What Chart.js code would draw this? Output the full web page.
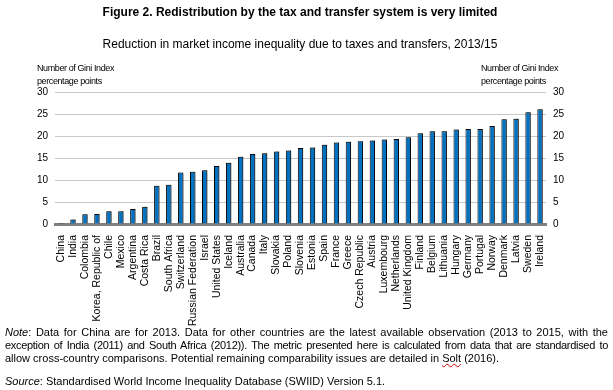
<!DOCTYPE html>
<html>
<head>
<meta charset="utf-8">
<script src="https://cdn.jsdelivr.net/npm/chart.js@4"></script>
<style>
  body { margin: 0; background: #fff; font-family: Arial, "Liberation Sans", sans-serif; color: #000; }
  #wrap { position: relative; width: 613px; height: 390px; overflow: hidden; }
  canvas { position: absolute; left: 0; top: 0; }
  .abs { position: absolute; white-space: nowrap; }
  .title { left: 0; width: 600px; text-align: center; top: 5px; font-size: 12px; font-weight: bold; }
  .sub { left: 0; width: 600px; text-align: center; top: 37px; font-size: 12px; }
  .axt { font-size: 9px; line-height: 13px; letter-spacing: -0.4px; top: 62px; }
  .note { left: 5px; width: 603px; top: 326px; font-size: 11px; line-height: 13px; }
  .note div { text-align: justify; text-align-last: justify; white-space: nowrap; }
  .note div.last { text-align-last: left; }
  .src { left: 5px; top: 375px; font-size: 11px; }
  .solt { text-decoration: underline wavy #d00000; text-decoration-thickness: 1px; }
</style>
</head>
<body>
<div id="wrap">
  <canvas id="myChart" width="613" height="390"></canvas>
  <div class="abs title">Figure 2. Redistribution by the tax and transfer system is very limited</div>
  <div class="abs sub">Reduction in market income inequality due to taxes and transfers, 2013/15</div>
  <div class="abs axt" style="left:37px">Number of Gini Index<br>percentage points</div>
  <div class="abs axt" style="left:481px">Number of Gini Index<br>percentage points</div>
  <div class="abs note">
    <div><i>Note</i>: Data for China are for 2013. Data for other countries are the latest available observation (2013 to 2015, with the</div>
    <div style="letter-spacing:-0.3px">exception of India (2011) and South Africa (2012)). The metric presented here is calculated from data that are standardised to</div>
    <div class="last">allow cross-country comparisons. Potential remaining comparability issues are detailed in <span class="solt">Solt</span> (2016).</div>
  </div>
  <div class="abs src"><i>Source</i>: Standardised World Income Inequality Database (SWIID) Version 5.1.</div>
</div>
<script>
// Dades del gràfic
const countries = ['China', 'India', 'Colombia', 'Korea, Republic of', 'Chile', 'Mexico', 'Argentina', 'Costa Rica',
  'Brazil', 'South Africa', 'Switzerland', 'Russian Federation', 'Israel', 'United States', 'Iceland', 'Australia',
  'Canada', 'Italy', 'Slovakia', 'Poland', 'Slovenia', 'Estonia', 'Spain', 'France', 'Greece', 'Czech Republic',
  'Austria', 'Luxembourg', 'Netherlands', 'United Kingdom', 'Finland', 'Belgium', 'Lithuania', 'Hungary',
  'Germany', 'Portugal', 'Norway', 'Denmark', 'Latvia', 'Sweden', 'Ireland'];
const giniReduction = [0.2, 1.0, 2.2, 2.3, 2.9, 2.9, 3.4, 3.9, 8.7, 8.9, 11.7, 11.9, 12.2, 13.2, 13.9, 15.3,
  15.9, 16.1, 16.5, 16.7, 17.3, 17.4, 18.0, 18.5, 18.7, 18.8, 19.0, 19.2, 19.3, 19.7, 20.6, 21.1, 21.1, 21.5,
  21.6, 21.6, 22.3, 23.8, 23.9, 25.4, 26.1];
const yTicks = [0, 5, 10, 15, 20, 25, 30];

const font = { family: 'Arial, "Liberation Sans", sans-serif' };

// Ombra suau sota les barres
const barShadow = {
  id: 'barShadow',
  beforeDatasetDraw(chart) {
    const ctx = chart.ctx;
    ctx.save();
    ctx.shadowColor = 'rgba(0,0,0,0.35)';
    ctx.shadowOffsetX = 1.5;
    ctx.shadowOffsetY = -1;
    ctx.shadowBlur = 1;
  },
  afterDatasetDraw(chart) {
    chart.ctx.restore();
  }
};

const ctx = document.getElementById('myChart').getContext('2d');
new Chart(ctx, {
  type: 'bar',
  data: {
    labels: countries,
    datasets: [{
      data: giniReduction,
      backgroundColor: '#0070C0',
      borderColor: '#000000',
      borderWidth: 1,
      barPercentage: 0.45,
      categoryPercentage: 1.0
    }]
  },
  options: {
    responsive: false,
    animation: false,
    layout: { padding: { top: 92, bottom: 6, left: 0, right: 0 } },
    plugins: { legend: { display: false }, tooltip: { enabled: false } },
    scales: {
      x: {
        grid: { display: false },
        border: { color: '#808080', width: 3 },
        ticks: {
          autoSkip: false, maxRotation: 90, minRotation: 90, padding: 3,
          color: '#000', font: { ...font, size: 10.5 }
        },
        afterFit: (s) => { s.height = 160; }
      },
      y: {
        position: 'left',
        min: 0, max: 30,
        afterBuildTicks: (s) => { s.ticks = yTicks.map(v => ({ value: v })); },
        grid: { color: '#c8c8c8', lineWidth: 1, drawTicks: false },
        border: { display: false },
        ticks: { padding: 7, color: '#000', font: { ...font, size: 10 } },
        afterFit: (s) => { s.width = 55; }
      },
      y2: {
        position: 'right',
        min: 0, max: 30,
        afterBuildTicks: (s) => { s.ticks = yTicks.map(v => ({ value: v })); },
        grid: { display: false, drawTicks: false },
        border: { display: false },
        ticks: { padding: 7, color: '#000', font: { ...font, size: 10 } },
        afterFit: (s) => { s.width = 67; }
      }
    }
  },
  plugins: [barShadow]
});
</script>
</body>
</html>
